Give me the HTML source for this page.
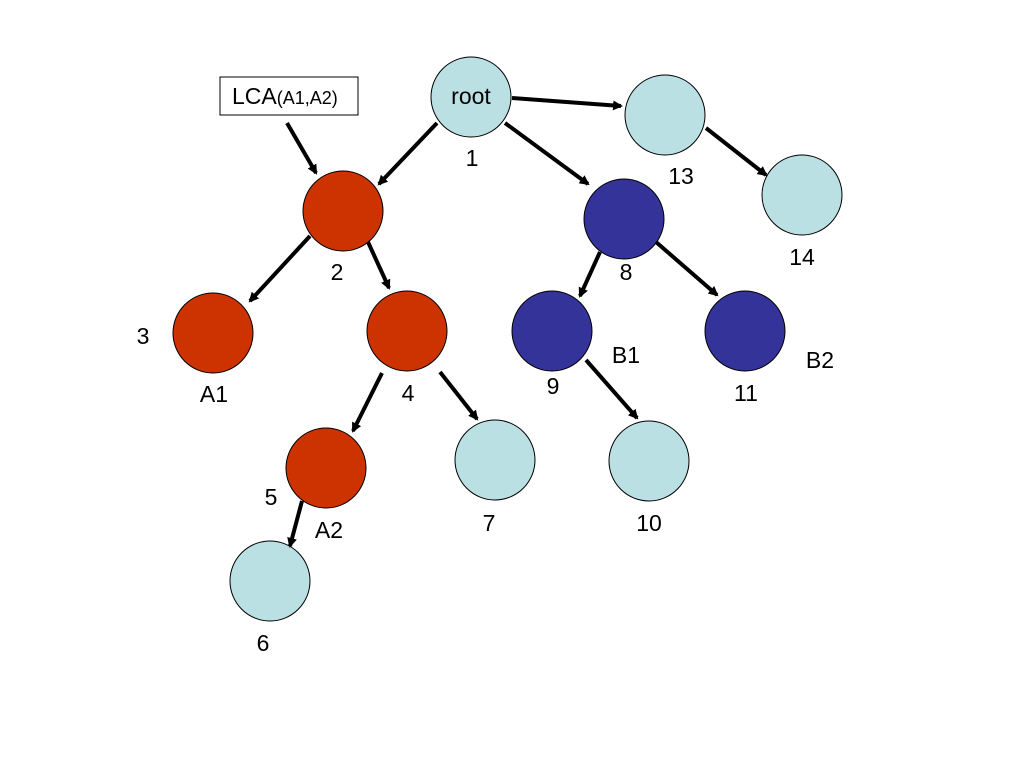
<!DOCTYPE html>
<html><head><meta charset="utf-8"><style>
html,body{margin:0;padding:0;background:#fff;}
svg{display:block;}
text{font-family:"Liberation Sans",Arial,sans-serif;font-size:23px;fill:#000;}
</style></head><body>
<svg width="1023" height="764" viewBox="0 0 1023 764" xmlns="http://www.w3.org/2000/svg">
<defs><marker id="a" markerWidth="10" markerHeight="10" refX="8" refY="5" orient="auto" markerUnits="userSpaceOnUse"><path d="M0,0 L10,5 L0,10 Z" fill="#000"/></marker></defs>
<g stroke="#000" stroke-width="1">
<circle cx="471" cy="97" r="40" fill="#BBE0E3"/>
<circle cx="665" cy="115" r="40" fill="#BBE0E3"/>
<circle cx="802" cy="195" r="40" fill="#BBE0E3"/>
<circle cx="343" cy="211" r="40" fill="#CC3300"/>
<circle cx="624" cy="219" r="40" fill="#333399"/>
<circle cx="213" cy="333" r="40" fill="#CC3300"/>
<circle cx="407" cy="331" r="40" fill="#CC3300"/>
<circle cx="552" cy="331" r="40" fill="#333399"/>
<circle cx="745" cy="331" r="40" fill="#333399"/>
<circle cx="326" cy="468" r="40" fill="#CC3300"/>
<circle cx="495" cy="460" r="40" fill="#BBE0E3"/>
<circle cx="649" cy="461" r="40" fill="#BBE0E3"/>
<circle cx="270" cy="581" r="40" fill="#BBE0E3"/>
<rect x="220" y="77" width="138" height="38" fill="#fff"/>
</g>
<g stroke="#000" stroke-width="4" marker-end="url(#a)">
<line x1="437" y1="123" x2="379" y2="184"/>
<line x1="505" y1="123" x2="588" y2="184"/>
<line x1="512" y1="98" x2="621" y2="106"/>
<line x1="706" y1="128" x2="766" y2="175"/>
<line x1="287" y1="123" x2="316" y2="173"/>
<line x1="310" y1="236" x2="250" y2="301"/>
<line x1="368" y1="242" x2="389" y2="288"/>
<line x1="600" y1="252" x2="580" y2="296"/>
<line x1="656" y1="242" x2="717" y2="295"/>
<line x1="382" y1="373" x2="353" y2="431"/>
<line x1="440" y1="372" x2="477" y2="419"/>
<line x1="586" y1="360" x2="637" y2="418"/>
<line x1="302" y1="501" x2="290" y2="546"/>
</g>
<text x="471" y="104" text-anchor="middle">root</text>
<text x="232" y="104">LCA<tspan font-size="18">(A1,A2)</tspan></text>
<text x="472" y="166" text-anchor="middle">1</text>
<text x="681" y="184" text-anchor="middle">13</text>
<text x="802" y="265" text-anchor="middle">14</text>
<text x="337" y="280" text-anchor="middle">2</text>
<text x="626" y="280" text-anchor="middle">8</text>
<text x="143" y="344" text-anchor="middle">3</text>
<text x="214" y="402" text-anchor="middle">A1</text>
<text x="408" y="401" text-anchor="middle">4</text>
<text x="553" y="394" text-anchor="middle">9</text>
<text x="626" y="363" text-anchor="middle">B1</text>
<text x="746" y="401" text-anchor="middle">11</text>
<text x="820" y="368" text-anchor="middle">B2</text>
<text x="271" y="505" text-anchor="middle">5</text>
<text x="329" y="538" text-anchor="middle">A2</text>
<text x="489" y="531" text-anchor="middle">7</text>
<text x="649" y="531" text-anchor="middle">10</text>
<text x="263" y="651" text-anchor="middle">6</text>
</svg>
</body></html>
